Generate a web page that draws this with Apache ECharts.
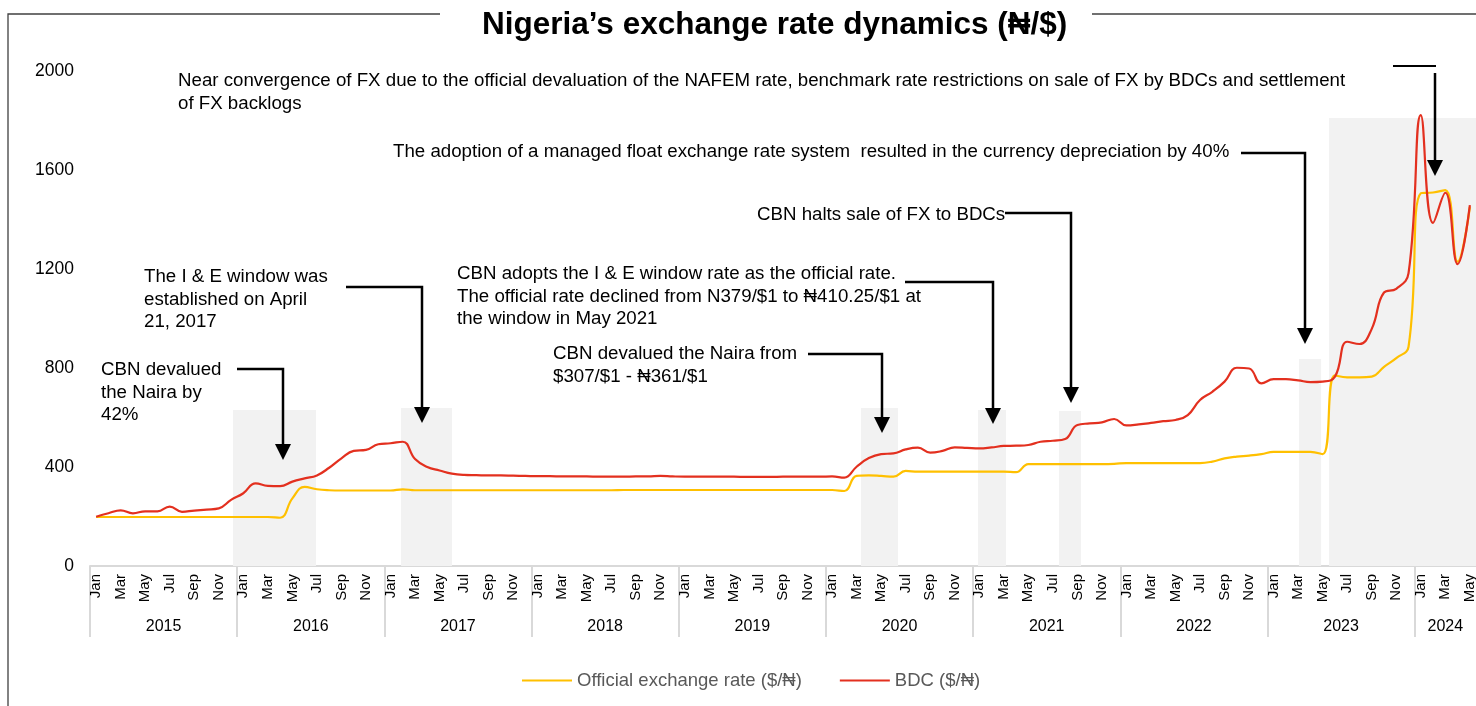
<!DOCTYPE html>
<html>
<head>
<meta charset="utf-8">
<script src="https://cdn.jsdelivr.net/npm/echarts@6/dist/echarts.min.js"></script>
<style>
  html, body { margin: 0; padding: 0; background: #fff; }
  #container { width: 1476px; height: 706px; }
</style>
</head>
<body>
<div id="container"></div>
<script>
var FONT = '"Liberation Sans", Arial, "DejaVu Sans", sans-serif';

// tick labels
var monthNames = ['Jan','Feb','Mar','Apr','May','Jun','Jul','Aug','Sep','Oct','Nov','Dec'];
var years = ['2015','2016','2017','2018','2019','2020','2021','2022','2023','2024'];
var monthsIn2024 = 5;

// Official exchange rate (N/$), monthly Jan 2015 - May 2024
var official = [
    198, 198, 198, 198, 198, 198, 198, 198, 198, 198, 198, 198,
    198, 198, 198, 195, 273, 320, 310, 306, 305, 305, 305, 305,
    305, 310, 306, 306, 306, 306, 306, 306, 306, 306, 306, 306,
    306, 306, 306, 306, 306, 306, 306, 307, 307, 307, 307, 307,
    307, 307, 307, 307, 307, 307, 307, 307, 307, 307, 307, 307,
    307, 303, 364, 366, 364, 361, 384, 381, 381, 381, 381, 381,
    381, 381, 381, 379, 412, 412, 412, 412, 412, 412, 412, 413,
    416, 416, 416, 416, 416, 416, 416, 422, 435, 442, 446, 452,
    461, 461, 461, 461, 452, 770, 762, 762, 765, 805, 840, 886,
    1506, 1509, 1519, 1230, 1450
];

// BDC rate (N/$)
var bdc = [
    199, 213, 225, 213, 221, 221, 240, 219, 224, 228, 233, 267,
    294, 334, 324, 323, 341, 354, 366, 397, 435, 465, 469, 492,
    496, 502, 432, 400, 386, 373, 368, 367, 366, 366, 365, 364,
    363, 363, 362, 362, 362, 361, 361, 361, 362, 362, 364, 362,
    361, 361, 361, 361, 361, 360, 360, 360, 361, 361, 361, 361,
    362, 357, 401, 436, 452, 455, 471, 478, 458, 465, 479, 477,
    475, 479, 485, 486, 489, 502, 506, 513, 570, 576, 580, 594,
    568, 572, 578, 585, 590, 610, 671, 704, 745, 801, 798, 738,
    755, 755, 750, 743, 745, 765, 906, 897, 958, 1105, 1120, 1183,
    1822, 1386, 1508, 1220, 1458
];

// shaded policy windows (in month units from Jan 2015) and their heights
var shadeStart = [11.66, 25.36, 62.86, 72.40, 79.00, 98.57, 101.02];
var shadeEnd   = [18.43, 29.51, 65.88, 74.68, 80.80, 100.37, 113];
var shadeTop   = [630, 638, 638, 630, 626, 836, 1810];

var categories = [];
years.forEach(function (y, yi) {
    var n = yi === years.length - 1 ? monthsIn2024 : 12;
    for (var m = 0; m < n; m++) categories.push(monthNames[m]);
});
var total = categories.length;

var yearBounds = [];
var yearCenters = [];
years.forEach(function (y, yi) {
    var s = yi * 12;
    var e = Math.min(s + 12, total);
    yearBounds.push(s);
    yearCenters.push((s + e) / 2);
});

var dom = document.getElementById('container');
var myChart = echarts.init(dom, null, { renderer: 'canvas' });

function textBlock(lines, x, yFirst) {
    return {
        type: 'text',
        z: 100,
        style: {
            text: lines.join('\n'),
            x: x,
            y: yFirst - 11.5,
            font: '18.7px ' + FONT,
            fill: '#000',
            lineHeight: 22.7,
            verticalAlign: 'top'
        },
        silent: true
    };
}

function arrow(points, tip) {
    return [
        {
            type: 'polyline',
            z: 100,
            shape: { points: points },
            style: { stroke: '#000', lineWidth: 2.5, fill: null },
            silent: true
        },
        {
            type: 'polygon',
            z: 100,
            shape: { points: [[tip[0] - 8, tip[1] - 16], [tip[0] + 8, tip[1] - 16], tip] },
            style: { fill: '#000' },
            silent: true
        }
    ];
}

var graphics = [
    // frame around the chart, broken by the title
    { type: 'polyline', z: 100, shape: { points: [[440, 14], [8, 14], [8, 706]] }, style: { stroke: '#404040', lineWidth: 1.3, fill: null }, silent: true },
    { type: 'line', z: 100, shape: { x1: 1092, y1: 14, x2: 1476, y2: 14 }, style: { stroke: '#404040', lineWidth: 1.3 }, silent: true },

    textBlock(['CBN devalued', 'the Naira by', '42%'], 101, 370),
    textBlock(['The I & E window was', 'established on April', '21, 2017'], 144, 277),
    textBlock(['CBN adopts the I & E window rate as the official rate.',
               'The official rate declined from N379/$1 to \u20a6410.25/$1 at',
               'the window in May 2021'], 457, 274),
    textBlock(['CBN devalued the Naira from', '$307/$1 - \u20a6361/$1'], 553, 354),
    textBlock(['CBN halts sale of FX to BDCs'], 757, 215),
    textBlock(['The adoption of a managed float exchange rate system  resulted in the currency depreciation by 40%'], 393, 152),
    textBlock(['Near convergence of FX due to the official devaluation of the NAFEM rate, benchmark rate restrictions on sale of FX by BDCs and settlement',
               'of FX backlogs'], 178, 81),
    { type: 'line', z: 100, shape: { x1: 1393, y1: 66, x2: 1436, y2: 66 }, style: { stroke: '#000', lineWidth: 2 }, silent: true }
]
.concat(arrow([[237, 369], [283, 369], [283, 446]], [283, 460]))
.concat(arrow([[346, 287], [422, 287], [422, 409]], [422, 423]))
.concat(arrow([[905, 282], [993, 282], [993, 410]], [993, 424]))
.concat(arrow([[808, 354], [882, 354], [882, 419]], [882, 433]))
.concat(arrow([[1005, 213], [1071, 213], [1071, 389]], [1071, 403]))
.concat(arrow([[1241, 153], [1305, 153], [1305, 330]], [1305, 344]))
.concat(arrow([[1435, 73], [1435, 162]], [1435, 176]));

var option = {
    animation: false,
    backgroundColor: '#fff',
    title: {
        text: 'Nigeria\u2019s exchange rate dynamics (\u20a6/$)',
        left: 477,
        top: 4,
        textStyle: { fontFamily: FONT, fontSize: 31.5, fontWeight: 'bold', color: '#000' }
    },
    grid: {
        left: 90,
        right: 0,
        top: 71,
        bottom: 140,
        containLabel: false,
        outerBoundsMode: 'none'
    },
    legend: {
        data: ['Official exchange rate ($/\u20a6)', 'BDC ($/\u20a6)'],
        left: 522,
        top: 671,
        padding: 0,
        icon: 'rect',
        itemWidth: 50,
        itemHeight: 2,
        itemGap: 38,
        textStyle: { fontFamily: FONT, fontSize: 18.5, color: '#595959' }
    },
    xAxis: [
        {
            type: 'category',
            data: categories,
            boundaryGap: true,
            axisLine: { show: true, lineStyle: { color: '#d9d9d9', width: 2 } },
            axisTick: { show: false },
            axisLabel: {
                interval: 1,
                rotate: 90,
                margin: 8,
                fontFamily: FONT,
                fontSize: 15,
                color: '#000'
            },
            splitLine: { show: false }
        },
        {
            type: 'value',
            position: 'bottom',
            min: 0,
            max: total,
            axisLine: { show: false },
            axisTick: {
                show: true,
                customValues: yearBounds,
                length: 71,
                lineStyle: { color: '#d9d9d9', width: 2 }
            },
            axisLabel: {
                customValues: yearCenters,
                margin: 53,
                fontFamily: FONT,
                fontSize: 16,
                color: '#000',
                formatter: function (v) {
                    return years[Math.floor(v / 12)];
                }
            },
            splitLine: { show: false }
        }
    ],
    yAxis: {
        type: 'value',
        min: 0,
        max: 2000,
        interval: 400,
        axisLine: { show: false },
        axisTick: { show: false },
        splitLine: { show: false },
        axisLabel: {
            margin: 16,
            fontFamily: FONT,
            fontSize: 17.5,
            color: '#000',
            formatter: function (v) { return String(v); }
        }
    },
    series: [
        {
            name: 'shading',
            type: 'custom',
            xAxisIndex: 1,
            yAxisIndex: 0,
            silent: true,
            z: 1,
            data: shadeStart.map(function (s, i) { return [s, shadeEnd[i], shadeTop[i]]; }),
            encode: { x: [0, 1], y: 2 },
            renderItem: function (params, api) {
                var p0 = api.coord([api.value(0), api.value(2)]);
                var p1 = api.coord([api.value(1), 0]);
                return {
                    type: 'rect',
                    shape: { x: p0[0], y: p0[1], width: p1[0] - p0[0], height: p1[1] - p0[1] },
                    style: { fill: '#f2f2f2' }
                };
            }
        },
        {
            name: 'Official exchange rate ($/\u20a6)',
            type: 'line',
            data: official,
            smooth: 0.45,
            symbol: 'none',
            z: 3,
            lineStyle: { color: '#ffc000', width: 2.2 },
            itemStyle: { color: '#ffc000' }
        },
        {
            name: 'BDC ($/\u20a6)',
            type: 'line',
            data: bdc,
            smooth: 0.45,
            symbol: 'none',
            z: 4,
            lineStyle: { color: '#e3301f', width: 2.2 },
            itemStyle: { color: '#e3301f' }
        }
    ],
    graphic: graphics
};

myChart.setOption(option);
</script>
</body>
</html>
